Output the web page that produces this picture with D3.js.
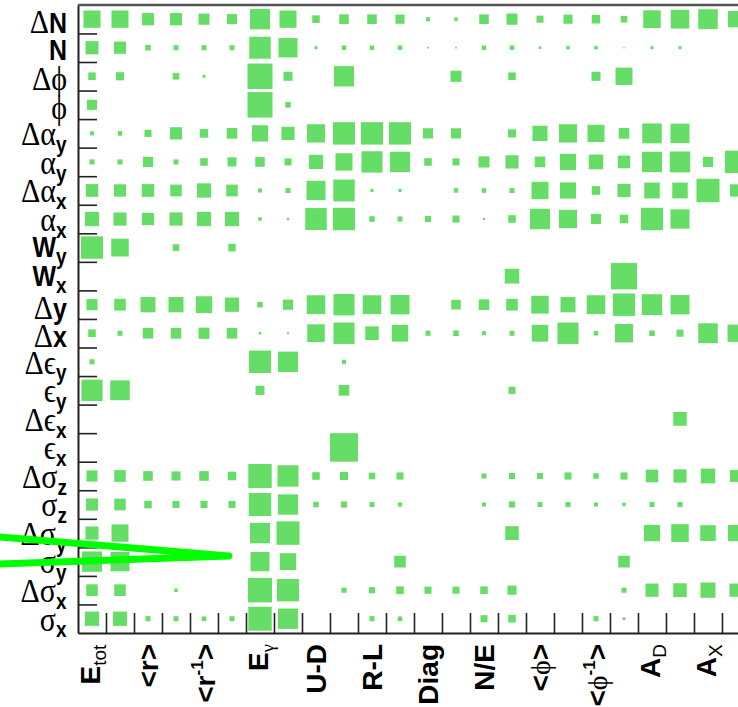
<!DOCTYPE html>
<html><head><meta charset="utf-8">
<script src="https://cdn.jsdelivr.net/npm/d3@7"></script>
<style>body{margin:0;background:#fff}svg{display:block}</style>
</head><body>
<svg id="c" width="738" height="707"></svg>
<script>
// ---- data ----
const rowLabels = ["ΔN","N","Δϕ","ϕ","Δα_{y}","α_{y}","Δα_{x}","α_{x}","W_{y}","W_{x}","Δy","Δx",
  "Δϵ_{y}","ϵ_{y}","Δϵ_{x}","ϵ_{x}","Δσ_{z}","σ_{z}","Δσ_{y}","σ_{y}","Δσ_{x}","σ_{x}"];
const colLabels = ["E_{tot}","<r>","<r^{-1}>","E_{γ}","U-D","R-L","Diag","N/E","<ϕ>","<ϕ^{-1}>","A_{D}","A_{X}"];
const nCols = 24;       // bins along x (labels on every second bin)
const zMax = 28;        // content giving a full-cell box
const cellValues = [
  /* ΔN   */ [17,17,12,12,11,10,20,17, 7.5,9.5,9.5,9,4,3.5,9.5,11, 7,9,8.5,6.5,17.5,18.5,19.5,16],
  /* N    */ [13,12,5.5,5,5,5,21.5,19, 3,4.5,4.5,4.5,1.7,1.7,4.5,4.5, 2.5,3.5,3.5,1.3,3,3,0,0],
  /* Δφ   */ [7.5,8,0,6.5,3,0,25,9, 0,20,0,0,0,11,0,7.5, 0,0,9,17,0,0,0,0],
  /* φ    */ [10,0,0,0,0,0,25,5.5, 0,0,0,0,0,0,0,0, 0,0,0,0,0,0,0,0],
  /* Δαy  */ [4,4.5,7,12,8.5,10.5,16,13, 18,22,22,22,10,10,0,8, 15,18,17,10.5,19.5,19,0,0],
  /* αy   */ [5,5,10,5,7.5,9,9.5,7, 14,17,21,20,7.5,7,11,13, 10.5,16,14.5,12.5,20,20.5,10,22],
  /* Δαx  */ [12.5,12,12.5,11.5,14,11.5,4,5, 19,21.5,3,3,0,4.5,4.5,5, 17,16,8.5,13,15.5,15.5,23,12],
  /* αx   */ [14,13,12,13,14,14,3.5,2.5, 21.5,22,5.5,5,6,7,2,7.5, 20,18,10,8.5,22,19,0,0],
  /* Wy   */ [22,17.5,0,6.5,0,7.5,0,0, 0,0,0,0,0,0,0,0, 0,0,0,0,0,0,0,0],
  /* Wx   */ [0,0,0,0,0,0,0,0, 0,0,0,0,0,0,0,14.5, 0,0,0,26,0,0,0,0],
  /* Δy   */ [11,11.5,15,15,16.5,14,5.5,10, 18.5,21,18.5,19,0,9.5,10.5,11.5, 17.5,15,18.5,22,20.5,19,0,0],
  /* Δx   */ [7.5,5,10.5,10.5,11,10.5,2.5,2, 17.5,21,13.5,16.5,5,5.5,4,5, 16.5,21,4.5,18,5.5,7,19.5,17],
  /* Δεy  */ [5,0,0,0,0,0,22,20, 0,4,0,0,0,0,0,0, 0,0,0,0,0,0,0,0],
  /* εy   */ [21,19.5,0,0,0,0,9,0, 0,10.5,0,0,0,0,0,7, 0,0,0,0,0,0,0,0],
  /* Δεx  */ [0,0,0,0,0,0,0,0, 0,0,0,0,0,0,0,0, 0,0,0,0,0,13.5,0,0],
  /* εx   */ [0,0,0,0,0,0,0,0, 0,28,0,0,0,0,0,0, 0,0,0,0,0,0,0,0],
  /* Δσz  */ [11,11.5,9.5,9,9.5,8.5,23.5,21, 7.5,8,6.5,7,0,0,5,6, 6,7,5.5,7,12.5,13,14.5,12],
  /* σz   */ [12,11.5,7.5,7,7,7,22.5,20, 5.5,6,5,4,0,0,4,6, 5,5,4,3.5,5,5,0,0],
  /* Δσy  */ [13,17,0,0,0,0,20,23, 0,0,0,0,0,0,0,13.5, 0,0,0,0,16,17.5,15.5,16],
  /* σy   */ [20,19,0,0,0,0,19,16.5, 0,0,0,11.5,0,0,0,0, 0,0,0,11.5,0,0,0,0],
  /* Δσx  */ [11.5,11.5,0,3.5,0,0,24,22, 0,5,6,7.5,7,7,7.5,9, 0,0,0,5,13,13.5,15,13],
  /* σx   */ [14,14,5,5,4.5,5,23.5,20, 0,0,5,4.5,0,0,7,7.5, 0,0,5,2.7,0,0,0,0]
];
// overlay stroke drawn over the chart (pixel space of the picture)
const overlayPts = [[0,537],[229,556],[0,564]];

// ---- layout ----
const W = 738, H = 707;
const L = 78, T = 4.9, B = 633, cellW = 28;
const svg = d3.select("#c");
const x = d3.scaleLinear().domain([0, nCols]).range([L, L + nCols*cellW]);
const y = d3.scaleLinear().domain([0, rowLabels.length]).range([T, B]);
const sw = d3.scaleLinear().domain([0, zMax]).range([0, x(1)-x(0)]);
const sh = d3.scaleLinear().domain([0, zMax]).range([0, y(1)-y(0)]);

const cells = cellValues.flatMap((row,i)=>row.map((v,j)=>({i,j,v}))).filter(d=>d.v>0);
svg.append("g").selectAll("rect").data(cells).join("rect")
  .attr("x", d=>x(d.j+0.5)-sw(d.v)/2)
  .attr("y", d=>y(d.i+0.5)-sh(d.v)/2)
  .attr("width", d=>sw(d.v)).attr("height", d=>sh(d.v))
  .attr("fill", "#66dd66");

// axes
const axL = svg.append("g").attr("transform",`translate(${L},0)`)
  .call(d3.axisLeft(y).tickValues(d3.range(1, rowLabels.length)).tickSize(-19).tickSizeOuter(0).tickFormat(""));
const axB = svg.append("g").attr("transform",`translate(0,${B})`)
  .call(d3.axisBottom(x).tickValues(d3.range(1, nCols)).tickSize(-20).tickSizeOuter(0).tickFormat(""));
[axL, axB].forEach(a=>{
  a.select(".domain").attr("stroke","#222").attr("stroke-width",2);
  a.selectAll(".tick line").attr("stroke","#222").attr("stroke-width",1.6);
});
svg.append("line").attr("x1",L).attr("x2",W).attr("y1",T).attr("y2",T)
  .attr("stroke","#555").attr("stroke-width",2.5);

// ---- rich labels ----
const greekRe = /([\u0370-\u03FF]+)|([^\u0370-\u03FF]+)/g;
function parse(str){
  const segs=[]; let i=0;
  while(i<str.length){
    if((str[i]==="_"||str[i]==="^") && str[i+1]==="{"){
      const j=str.indexOf("}",i);
      segs.push({t:str.slice(i+2,j), m:str[i]==="_"?"sub":"sup"}); i=j+1;
    } else {
      let j=i; while(j<str.length && !((str[j]==="_"||str[j]==="^")&&str[j+1]==="{")) j++;
      segs.push({t:str.slice(i,j), m:"norm"}); i=j;
    }
  }
  return segs;
}
function rich(text, str, st){
  let cur=0;
  parse(str).forEach(seg=>{
    const runs = seg.t.match(greekRe) || [];
    runs.forEach(r=>{
      const isG = /[\u0370-\u03FF]/.test(r);
      const target = seg.m==="sub"?st.subDy:seg.m==="sup"?st.supDy:0;
      text.append("tspan").text(r)
        .attr("dy", target-cur)
        .attr("font-family", isG ? "'Liberation Serif','DejaVu Serif',serif" : "'Liberation Sans',Arial,sans-serif")
        .attr("font-weight", isG ? "normal" : (seg.m==="sub"?st.subW:seg.m==="sup"?st.supW:"bold"))
        .attr("font-size", seg.m==="sub"?st.subFs:seg.m==="sup"?st.supFs:(isG?st.gFs:st.fs));
      cur=target;
    });
  });
}

// y labels
const yStyle = {fs:25, gFs:30, subFs:19, supFs:16, subDy:6, supDy:-10, subW:"bold", supW:"bold"};
const sY = 1.15;
rowLabels.forEach((lab,i)=>{
  const t = svg.append("text").attr("fill","#000");
  rich(t, lab, yStyle);
  const bb = t.node().getBBox();
  const cy = y(i+0.5)+2;
  t.attr("transform",`translate(${67-bb.x-bb.width},${cy - sY*(bb.y+bb.height/2)}) scale(1,${sY})`);
});

// x labels (every second bin)
const xStyle = {fs:28, gFs:28, subFs:19, supFs:17, subDy:6, supDy:-12, subW:"normal", supW:"bold"};
colLabels.forEach((lab,k)=>{
  const t = svg.append("text").attr("fill","#000");
  rich(t, lab, xStyle);
  const bb = t.node().getBBox();
  const cx = x(2*k+0.5);
  t.attr("transform",`translate(${cx-bb.y-bb.height/2},${644+bb.x+bb.width}) rotate(-90)`);
});

// overlay stroke
svg.append("path").attr("d", d3.line()(overlayPts))
  .attr("fill","none").attr("stroke","#00ff00").attr("stroke-width",7)
  .attr("stroke-linejoin","round").attr("stroke-linecap","round");
</script>
</body></html>
